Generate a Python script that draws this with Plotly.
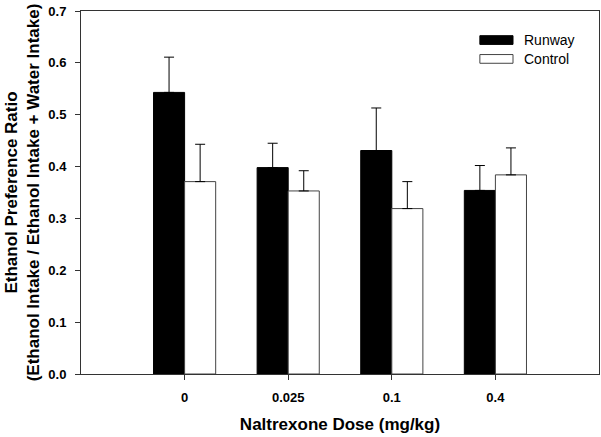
import plotly.graph_objects as go

doses = ["0", "0.025", "0.1", "0.4"]
positions = [0, 1, 2, 3]
runway = [0.543, 0.398, 0.431, 0.354]
runway_err = [0.068, 0.047, 0.082, 0.048]
control = [0.371, 0.353, 0.319, 0.384]
control_err = [0.072, 0.039, 0.052, 0.052]
y_ticks = [0.0, 0.1, 0.2, 0.3, 0.4, 0.5, 0.6, 0.7]

FONT = "Liberation Sans, Arial, sans-serif"

fig = go.Figure()
fig.add_trace(go.Bar(
    x=positions, y=runway, name="Runway",
    marker=dict(color="black", line=dict(color="black", width=1)),
    error_y=dict(type="data", array=runway_err, arrayminus=[0] * 4, symmetric=False,
                 color="black", thickness=1, width=5),
    showlegend=False,
))
fig.add_trace(go.Bar(
    x=positions, y=control, name="Control",
    marker=dict(color="white", line=dict(color="#444444", width=1)),
    error_y=dict(type="data", array=control_err, arrayminus=[0] * 4, symmetric=False,
                 color="black", thickness=1, width=5),
    showlegend=False,
))

# Legend drawn as wide swatches + text
legend_items = [("Runway", "black", "black", 0.932, 0.908, 0.920),
                ("Control", "white", "#444444", 0.880, 0.856, 0.868)]
for name, fill, line, y1, y0, ty in legend_items:
    fig.add_shape(type="rect", xref="paper", yref="paper", x0=0.770, x1=0.834, y0=y0, y1=y1,
                  fillcolor=fill, line=dict(color=line, width=1))
    fig.add_annotation(xref="paper", yref="paper", x=0.851, y=ty, text=name, showarrow=False,
                       xanchor="left", yanchor="middle",
                       font=dict(family=FONT, size=14, color="black"))

fig.update_layout(
    width=601, height=437,
    margin=dict(l=81, r=2, t=11, b=63),
    paper_bgcolor="white", plot_bgcolor="white",
    barmode="group", bargap=0.4, bargroupgap=0,
    font=dict(family=FONT, color="black"),
    xaxis=dict(
        range=[-1, 4], tickmode="array", tickvals=positions, ticktext=doses,
        showline=True, linecolor="#333333", linewidth=1, mirror=True,
        ticks="outside", ticklen=5, tickcolor="#333333", showgrid=False, zeroline=False,
        tickfont=dict(family=FONT, size=13, color="black", weight="bold"),
        ticklabelstandoff=6,
        title=dict(text="<b>Naltrexone Dose (mg/kg)</b>", font=dict(family=FONT, size=17, color="black"),
                   standoff=14),
    ),
    yaxis=dict(
        range=[0, 0.7], tickmode="array", tickvals=y_ticks, tickformat=".1f",
        showline=True, linecolor="#333333", linewidth=1, mirror=True,
        ticks="outside", ticklen=5, tickcolor="#333333", showgrid=False, zeroline=False,
        tickfont=dict(family=FONT, size=13, color="black", weight="bold"),
        ticklabelstandoff=6,
        title=dict(text="<b>Ethanol Preference Ratio<br>(Ethanol Intake / Ethanol Intake + Water Intake)</b>",
                   font=dict(family=FONT, size=17, color="black"), standoff=4),
    ),
)

fig.write_html("out.html", config={"displayModeBar": False},
               post_script="document.body.style.margin='0';")
